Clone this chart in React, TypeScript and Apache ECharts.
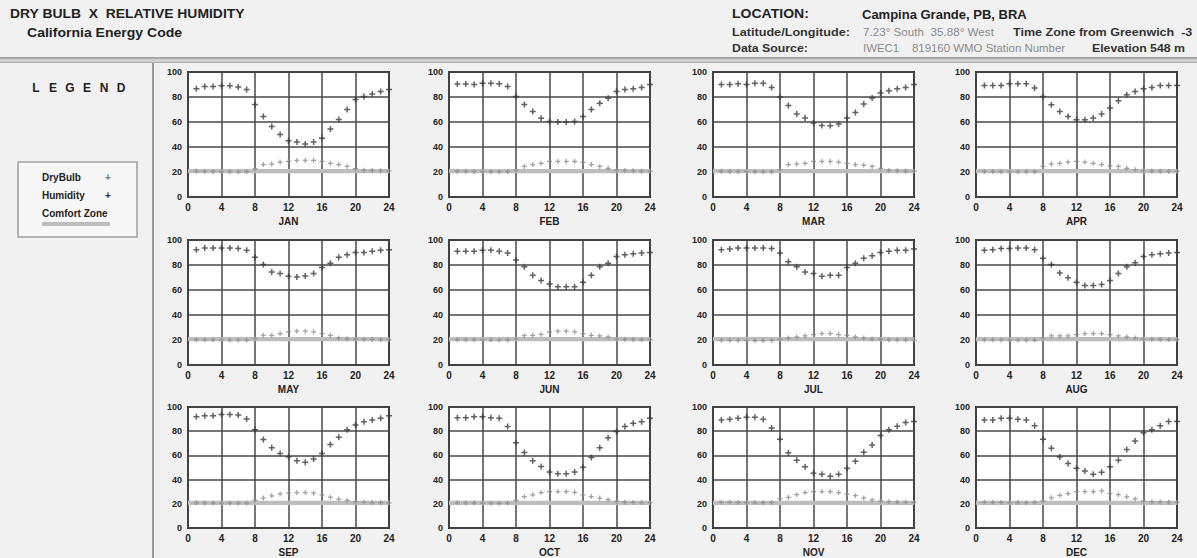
import React, { useEffect, useRef } from "react";
import * as echarts from "echarts";

const MONTHS = ["JAN", "FEB", "MAR", "APR", "MAY", "JUN", "JUL", "AUG", "SEP", "OCT", "NOV", "DEC"];
const HOURS = [1, 2, 3, 4, 5, 6, 7, 8, 9, 10, 11, 12, 13, 14, 15, 16, 17, 18, 19, 20, 21, 22, 23, 24];
const X_TICKS = [0, 4, 8, 12, 16, 20, 24];
const Y_TICKS = [0, 20, 40, 60, 80, 100];
const COMFORT_ZONE = [19, 22.5];

const HUM_JAN = [86.7, 88.5, 88.5, 89, 89, 88, 86, 74, 64.5, 56.5, 50, 45, 44, 42.5, 44, 47, 54.5, 62, 70, 78, 80.5, 82.5, 84.5, 86];
const DB_JAN = [20.8, 20.6, 20.5, 20.4, 20.3, 20.2, 20.4, 22.7, 26, 26.4, 28, 28.5, 29.3, 29.3, 29.3, 28.5, 27, 26, 24.5, 22.7, 21.5, 21.2, 21, 20.9];
const HUM_FEB = [90.4, 90.4, 90, 91, 91, 90.7, 88.5, 80.5, 74, 68.5, 63, 60.5, 60, 60, 60.5, 64.5, 70, 75, 79, 84.5, 86, 86.7, 87.7, 90];
const DB_FEB = [20.7, 20.6, 20.5, 20.4, 20.3, 20.3, 20.4, 21.5, 24.5, 26, 27, 28.5, 28.5, 28.5, 28.5, 27.7, 26, 24.5, 23, 21.5, 21.2, 21, 20.9, 20.8];
const HUM_MAR = [90, 90, 90.7, 90, 91, 91, 87.7, 80, 73.3, 66.4, 63.2, 59.2, 57.3, 57, 58.4, 63.2, 67.7, 74.4, 79.2, 83.2, 85, 86.7, 87.7, 90];
const DB_MAR = [20.6, 20.5, 20.4, 20.3, 20.3, 20.2, 20.3, 22, 26, 26.5, 27, 28.5, 28.5, 28.5, 28, 27, 26, 25.5, 24.5, 23, 21.3, 21, 20.8, 20.7];
const HUM_APR = [89.3, 89.3, 89.3, 90.7, 90.7, 90.7, 87.2, 80.5, 73.9, 68.5, 64.5, 61.9, 61.9, 63.2, 66.4, 71.2, 77, 81.9, 84.5, 86.7, 87.7, 89.3, 89.3, 89.3];
const DB_APR = [20.5, 20.4, 20.3, 20.3, 20.2, 20.2, 20.3, 24.5, 26.4, 27, 28, 28.5, 28, 27, 26, 25, 24.5, 23, 21.9, 21, 20.8, 20.7, 20.6, 20.5];
const HUM_MAY = [92.3, 93.7, 93.7, 93.7, 93.7, 93.2, 91.8, 86.3, 80.5, 74.5, 73.2, 71, 70.4, 71.2, 73.2, 78, 81.4, 86.3, 88.2, 90.1, 90.1, 91, 91.8, 92.3];
const DB_MAY = [20.3, 20.2, 20.1, 20, 20, 19.9, 20, 21.5, 23.8, 23.8, 25.2, 26.6, 27.1, 27.1, 26.6, 25.2, 23.8, 21.6, 21, 20.8, 20.6, 20.5, 20.4, 20.3];
const HUM_JUN = [91, 91, 91, 91.8, 91.8, 91, 89.6, 84, 78.6, 71.8, 67.7, 64.9, 62.7, 62.7, 62.7, 66.3, 71.8, 78.6, 81.4, 86.8, 88.2, 89, 89.6, 90.1];
const DB_JUN = [20.4, 20.3, 20.2, 20.1, 20, 20, 20.1, 21, 23.5, 23.8, 24.5, 26.6, 27.1, 27.1, 26.6, 25.2, 23.8, 23.3, 22.5, 20.8, 20.6, 20.5, 20.4, 20.4];
const HUM_JUL = [92.3, 92.9, 93.7, 93.7, 93.7, 93.7, 93.2, 89.6, 82.7, 78.6, 74.5, 73.2, 71, 71.8, 71.8, 78, 81.4, 85.5, 87.4, 90.1, 91, 91.8, 91.8, 92.9];
const DB_JUL = [19.9, 19.8, 19.7, 19.7, 19.6, 19.6, 19.7, 20.5, 21.6, 22.5, 23.3, 24.4, 25.2, 25.2, 24.4, 23.8, 22.5, 21.6, 20.8, 20.5, 20.3, 20.2, 20.1, 20];
const HUM_AUG = [91.8, 92.3, 93.2, 93.2, 93.7, 93.7, 92.3, 85.5, 80.5, 73.7, 69.9, 66.3, 63.6, 63.6, 64.4, 67.7, 73.2, 78.6, 81.9, 86.8, 88.2, 89, 89.6, 90.1];
const DB_AUG = [20.3, 20.2, 20.1, 20, 20, 19.9, 20, 21.5, 23.3, 23.3, 23.3, 24.4, 25.2, 25.2, 25.2, 24.4, 23.3, 22.5, 21.6, 20.8, 20.6, 20.5, 20.4, 20.3];
const HUM_SEP = [91.9, 92.7, 92.7, 93.8, 93.8, 93.3, 90, 81.2, 73.1, 66.4, 61.6, 58.9, 55.6, 54.3, 57, 61.6, 69.1, 75, 81.2, 85.2, 87.9, 89.2, 90.6, 92.7];
const DB_SEP = [20.8, 20.7, 20.6, 20.5, 20.5, 20.4, 20.6, 22.8, 24.7, 26.6, 28.2, 28.8, 29.3, 29.3, 28.8, 27.4, 25.5, 23.9, 22.8, 21.5, 21.2, 21, 20.9, 20.8];
const HUM_OCT = [91.1, 91.1, 91.9, 91.9, 91.1, 90.6, 83.9, 70.4, 62.4, 55.6, 50.8, 46.2, 44.9, 44.9, 46.2, 50.3, 58.3, 66.4, 74.5, 79.8, 83.9, 86.6, 87.9, 90.6];
const DB_OCT = [20.8, 20.7, 20.6, 20.5, 20.5, 20.4, 20.6, 22.8, 26, 27.4, 29.3, 30.1, 30.1, 30.1, 29.5, 27.4, 26, 24.7, 23.4, 22, 21.3, 21.1, 21, 20.9];
const HUM_NOV = [89.3, 89.9, 90.7, 91.5, 91.5, 89.9, 82.7, 73.3, 62.1, 56, 50.7, 45.3, 44.5, 42.7, 44.5, 49.3, 55.2, 62.7, 68.5, 76.5, 81.3, 84, 87.2, 88];
const DB_NOV = [21.3, 21.2, 21.1, 21, 21, 20.9, 21.1, 24, 25.3, 27.5, 29.3, 30.1, 30.1, 30.1, 29.3, 28, 26.7, 24.8, 23.2, 22.2, 21.6, 21.4, 21.3, 21.3];
const HUM_DEC = [89.3, 89.3, 90.7, 90.7, 89.9, 89.3, 84.5, 73.3, 65.9, 58.7, 53.3, 49.3, 47.2, 44.5, 46.1, 50.7, 56, 64.8, 72, 78.7, 81.3, 84.5, 88, 88];
const DB_DEC = [21.3, 21.2, 21.1, 21, 21, 20.9, 21.1, 22.5, 25, 27, 28.5, 30.1, 30.1, 30.1, 30.6, 28.5, 27.5, 25.8, 24, 22.2, 21.6, 21.4, 21.3, 21.3];

const HUMIDITY = [HUM_JAN, HUM_FEB, HUM_MAR, HUM_APR, HUM_MAY, HUM_JUN, HUM_JUL, HUM_AUG, HUM_SEP, HUM_OCT, HUM_NOV, HUM_DEC];
const DRY_BULB = [DB_JAN, DB_FEB, DB_MAR, DB_APR, DB_MAY, DB_JUN, DB_JUL, DB_AUG, DB_SEP, DB_OCT, DB_NOV, DB_DEC];

const PLUS = "path://M3,0H5V3H8V5H5V8H3V5H0V3H3Z";
const COL_LEFT = [188, 449, 713, 976];
const ROW_TOP = [72, 240, 407];
const PW = 201;
const PH = 125;
const BG = "#f1f1f1";
const FONT = "Liberation Sans, Arial, sans-serif";

export default function App() {
  const ref = useRef<HTMLDivElement>(null);
  useEffect(() => {
    if (!ref.current) return;
    const chart = echarts.init(ref.current, undefined, { renderer: "svg" });
    const grids: any[] = [];
    const xAxes: any[] = [];
    const yAxes: any[] = [];
    const series: any[] = [];
    MONTHS.forEach((m, i) => {
      const r = Math.floor(i / 4);
      const c = i % 4;
      grids.push({
        left: COL_LEFT[c], top: ROW_TOP[r], width: PW, height: PH,
        show: true, backgroundColor: "#ffffff", borderColor: "#333333", borderWidth: 2,
      });
      xAxes.push({
        type: "value", gridIndex: i, min: X_TICKS[0], max: X_TICKS[X_TICKS.length - 1], interval: 4,
        axisLine: { show: false }, axisTick: { show: false },
        splitLine: { show: true, lineStyle: { color: "#484848", width: 1.5 } },
        axisLabel: { fontSize: 10, fontWeight: "bold", color: "#222", margin: 5, fontFamily: FONT },
        name: m, nameLocation: "middle", nameGap: 19,
        nameTextStyle: { fontSize: 10, fontWeight: "bold", color: "#222", fontFamily: FONT },
      });
      yAxes.push({
        type: "value", gridIndex: i, min: Y_TICKS[0], max: Y_TICKS[Y_TICKS.length - 1], interval: 20,
        axisLine: { show: false }, axisTick: { show: false },
        splitLine: { show: true, lineStyle: { color: "#484848", width: 1.5 } },
        axisLabel: { fontSize: 9, fontWeight: "bold", color: "#222", margin: 6, fontFamily: FONT },
      });
      series.push({
        type: "scatter", name: "Dry Bulb", xAxisIndex: i, yAxisIndex: i,
        symbol: PLUS, symbolSize: 5,
        itemStyle: { color: "#8a8a8a" },
        data: HOURS.map((h, k) => [h, DRY_BULB[i][k]]),
        markArea: {
          silent: true,
          itemStyle: { color: "#bdbdbd" },
          data: [[{ yAxis: COMFORT_ZONE[0] }, { yAxis: COMFORT_ZONE[1] }]],
        },
        z: 3,
      });
      series.push({
        type: "scatter", name: "Humidity", xAxisIndex: i, yAxisIndex: i,
        symbol: PLUS, symbolSize: 6,
        itemStyle: { color: "#3a3a3a" },
        data: HOURS.map((h, k) => [h, HUMIDITY[i][k]]),
        z: 4,
      });
    });

    const txt = (x: number, y: number, text: string, font: string, fill = "#222", align = "left", sx = 1) => ({
      type: "text", x, y, scaleX: sx,
      style: { text, font, fill, textAlign: align, textVerticalAlign: "middle" },
    });
    const legendLetters = "LEGEND".split("").map((ch, k) =>
      txt(36 + k * 17, 88, ch, `bold 12px ${FONT}`, "#222", "center"));

    const graphic: any[] = [
      { type: "rect", shape: { x: 0, y: 57, width: 1197, height: 6 }, style: { fill: "#cfcfcf" } },
      { type: "line", shape: { x1: 0, y1: 58, x2: 1197, y2: 58 }, style: { stroke: "#9a9a9a", lineWidth: 1.5 } },
      { type: "line", shape: { x1: 0, y1: 62.5, x2: 1197, y2: 62.5 }, style: { stroke: "#b0b0b0", lineWidth: 1 } },
      { type: "line", shape: { x1: 153, y1: 63, x2: 153, y2: 558 }, style: { stroke: "#9a9a9a", lineWidth: 2 } },
      txt(10, 14, "DRY BULB  X  RELATIVE HUMIDITY", `bold 13px ${FONT}`, "#222", "left", 1.07),
      txt(27, 33, "California Energy Code", `bold 13px ${FONT}`, "#222", "left", 1.08),
      txt(732, 14, "LOCATION:", `bold 13px ${FONT}`, "#222", "left", 1.08),
      txt(862, 14, "Campina Grande, PB, BRA", `bold 13px ${FONT}`),
      txt(732, 32, "Latitude/Longitude:", `bold 11px ${FONT}`, "#333", "left", 1.15),
      txt(863, 32, "7.23° South  35.88° West", `11px ${FONT}`, "#8a8a8a", "left", 1.06),
      txt(1013, 32, "Time Zone from Greenwich  -3", `bold 11px ${FONT}`, "#333", "left", 1.14),
      txt(732, 48, "Data Source:", `bold 11px ${FONT}`, "#333", "left", 1.12),
      txt(863, 48, "IWEC1    819160 WMO Station Number", `11px ${FONT}`, "#8a8a8a", "left", 1.04),
      txt(1092, 48, "Elevation 548 m", `bold 11px ${FONT}`, "#333", "left", 1.12),
      ...legendLetters,
      { type: "rect", shape: { x: 18, y: 162, width: 119, height: 75 }, style: { fill: "#f7f7f7", stroke: "#a0a0a0", lineWidth: 1.5 } },
      txt(42, 177, "DryBulb", `bold 10px ${FONT}`),
      txt(108, 177, "+", `bold 10px ${FONT}`, "#777", "center"),
      txt(42, 195, "Humidity", `bold 10px ${FONT}`),
      txt(108, 195, "+", `bold 10px ${FONT}`, "#333", "center"),
      txt(42, 213, "Comfort Zone", `bold 10px ${FONT}`),
      { type: "rect", shape: { x: 42, y: 222, width: 68, height: 4 }, style: { fill: "#bdbdbd" } },
    ];

    chart.setOption({
      animation: false,
      backgroundColor: BG,
      grid: grids,
      xAxis: xAxes,
      yAxis: yAxes,
      series,
      graphic,
    });
    return () => chart.dispose();
  }, []);
  return <div ref={ref} style={{ position: "fixed", left: 0, top: 0, width: 1197, height: 558 }} />;
}
